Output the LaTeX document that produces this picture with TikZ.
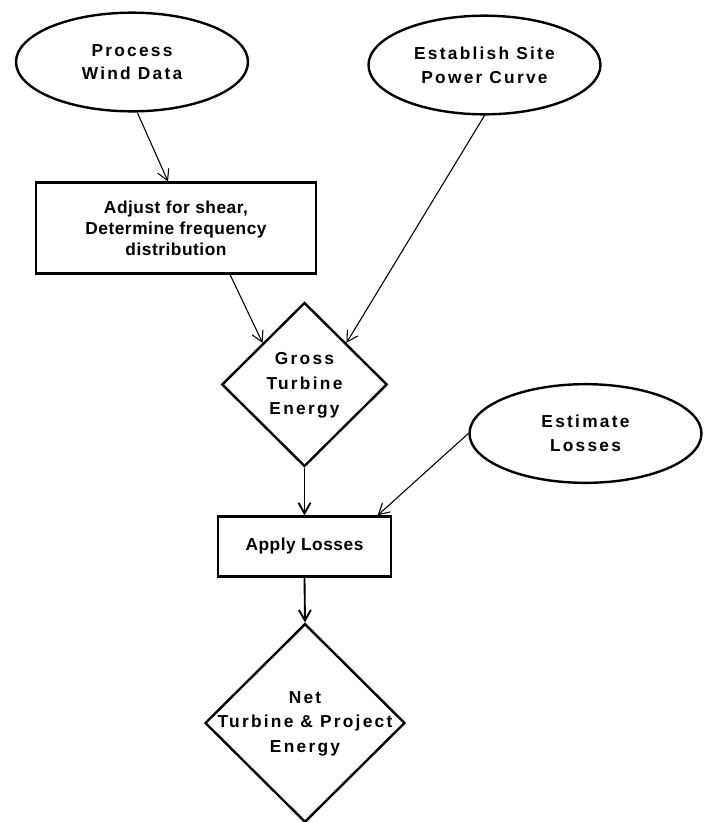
\documentclass[tikz,border=0pt]{standalone}
\usepackage{fontspec}
\setmainfont{Liberation Sans}
\newfontfamily\widefont[LetterSpace=13]{Liberation Sans}
\newfontfamily\tightfont[LetterSpace=3]{Liberation Sans}
\usetikzlibrary{shapes.geometric,arrows.meta}
\newcommand{\diatext}[1]{\makebox[0pt]{\begin{tabular}{@{}c@{}}#1\end{tabular}}}

\begin{document}
\begin{tikzpicture}[x=0.75pt, y=-0.75pt,
    oval/.style={ellipse, draw, line width=1.8pt, minimum width=174pt, minimum height=74pt,
        align=center, font=\widefont\bfseries\fontsize{13}{17.75}\selectfont},
    box/.style={rectangle, draw, line width=1.8pt, align=center,
        font=\tightfont\bfseries\fontsize{13}{15.6}\selectfont},
    dia/.style={diamond, draw, line width=1.8pt, inner sep=0pt,
        font=\widefont\bfseries\fontsize{13}{18.5}\selectfont},
    link/.style={-{Straight Barb[length=8pt,width=9pt]}, line width=0.8pt},
    flow/.style={link, line width=1.4pt}]
    \useasboundingbox (0,0) rectangle (708,822);
    % inputs
    \node[oval] (pwd) at (132,62) {Process\\Wind Data};
    \node[oval] (esp) at (484.5,65) {Establish Site\\Power Curve};
    \node[oval] (elo) at (585.5,433.5) {Estimate\\Losses};
    % steps
    \node[box, minimum width=210pt, minimum height=68pt] (adj) at (176,228)
        {Adjust for shear,\\Determine frequency\\distribution};
    \node[box, minimum width=130pt, minimum height=45pt] (app) at (304.5,546.5) {Apply Losses};
    % results
    \node[dia, minimum width=124pt, minimum height=123pt] (gte) at (304.5,384.5)
        {\diatext{Gross\\Turbine\\Energy}};
    \node[dia, minimum width=150pt, minimum height=149pt] (net) at (305,723)
        {\diatext{Net\\Turbine \& Project\\Energy}};
    % connectors
    \draw[link] (pwd.-84) -- ([xshift=-6pt]adj.north);
    \draw[link] ([xshift=40.5pt]adj.south) -- (gte.north west);
    \draw[link] (esp.south) -- (gte.north east);
    \draw[flow] (gte.south) -- (app.north);
    \draw[link] (elo.west) -- ([xshift=-11pt]app.north east);
    \draw[flow] (app.south) -- (net.north);
\end{tikzpicture}
\end{document}
